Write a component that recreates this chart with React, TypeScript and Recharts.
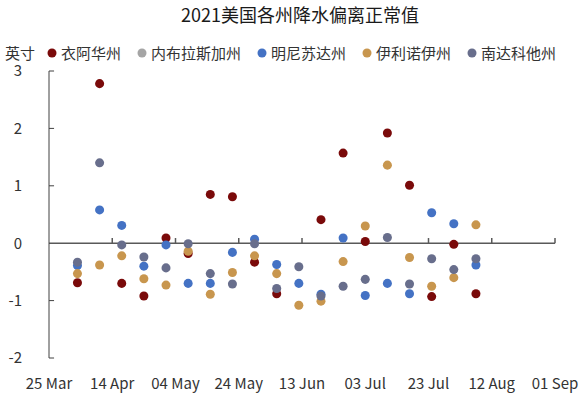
import React from 'react';
import { ScatterChart, Scatter, XAxis, YAxis, ZAxis, ReferenceLine, Legend } from 'recharts';

const FONT = '"Noto Sans CJK SC", "Noto Sans", sans-serif';

const dates = [
  '2021-04-03', '2021-04-10', '2021-04-17', '2021-04-24', '2021-05-01', '2021-05-08',
  '2021-05-15', '2021-05-22', '2021-05-29', '2021-06-05', '2021-06-12', '2021-06-19',
  '2021-06-26', '2021-07-03', '2021-07-10', '2021-07-17', '2021-07-24', '2021-07-31',
  '2021-08-07',
];

const iowa: (number | null)[] = [-0.69, 2.78, -0.70, -0.92, 0.09, -0.18, 0.85, 0.81, -0.33, -0.88, null, 0.41, 1.57, 0.03, 1.92, 1.01, -0.93, -0.02, -0.88];
const nebraska: (number | null)[] = [];
const minnesota: (number | null)[] = [-0.39, 0.58, 0.31, -0.40, -0.03, -0.70, -0.70, -0.16, 0.07, -0.37, -0.70, -0.89, 0.09, -0.91, -0.70, -0.88, 0.53, 0.34, -0.38];
const illinois: (number | null)[] = [-0.53, -0.38, -0.22, -0.62, -0.73, -0.14, -0.89, -0.51, -0.22, -0.53, -1.08, -1.01, -0.32, 0.30, 1.36, -0.25, -0.75, -0.60, 0.32];
const southDakota: (number | null)[] = [-0.33, 1.40, -0.03, -0.24, -0.43, -0.01, -0.53, -0.71, -0.01, -0.79, -0.41, -0.92, -0.75, -0.63, 0.10, -0.71, -0.27, -0.46, -0.27];

const xTickDates = ['2021-03-25', '2021-04-14', '2021-05-04', '2021-05-24', '2021-06-13', '2021-07-03', '2021-07-23', '2021-08-12', '2021-09-01'];
const xTickLabels = ['25 Mar', '14 Apr', '04 May', '24 May', '13 Jun', '03 Jul', '23 Jul', '12 Aug', '01 Sep'];
const yTicks = [-2, -1, 0, 1, 2, 3];

const series = [
  { name: '衣阿华州', color: '#7a0a0a', values: iowa },
  { name: '内布拉斯加州', color: '#a5a5a5', values: nebraska },
  { name: '明尼苏达州', color: '#4472c4', values: minnesota },
  { name: '伊利诺伊州', color: '#c8964e', values: illinois },
  { name: '南达科他州', color: '#686e8c', values: southDakota },
];

const toTs = (d: string) => Date.parse(d + 'T00:00:00Z');
const DAY = 86400000;
const xTicks = xTickDates.map(toTs);

const build = (vals: (number | null)[]) =>
  vals
    .map((v, i) => (v == null ? null : { x: toTs(dates[i]), y: v }))
    .filter((p): p is { x: number; y: number } => p !== null);

const fmtX = (v: number) => {
  const i = xTicks.indexOf(v);
  return i >= 0 ? xTickLabels[i] : '';
};

const txt: React.CSSProperties = { display: 'inline-block', height: 15, lineHeight: '15px', overflow: 'visible' };

const LegendContent = () => (
  <div style={{ display: 'flex', alignItems: 'center', fontFamily: FONT, fontSize: 15, lineHeight: '15px', color: '#333', height: 15, whiteSpace: 'nowrap' }}>
    <span style={{ ...txt, marginLeft: 5, marginRight: 12 }}>英寸</span>
    {series.map((s) => (
      <span key={s.name} style={{ display: 'inline-flex', alignItems: 'center', marginRight: 16, height: 15 }}>
        <svg width={10} height={10} style={{ marginRight: 4 }}>
          <circle cx={5} cy={5} r={4.5} fill={s.color} />
        </svg>
        <span style={txt}>{s.name}</span>
      </span>
    ))}
  </div>
);

export default function App() {
  return (
    <div style={{ position: 'absolute', left: 0, top: 0, width: 584, height: 398, background: '#fff' }}>
      <div
        style={{
          position: 'absolute', left: 0, top: 2, width: 584, paddingLeft: 16, boxSizing: 'border-box',
          textAlign: 'center', fontFamily: FONT, fontSize: 18, lineHeight: '24px', color: '#1a1a1a', zIndex: 2,
        }}
      >
        2021美国各州降水偏离正常值
      </div>
      <ScatterChart width={584} height={398} margin={{ top: 71, right: 29, bottom: 10, left: 9 }}>
        <XAxis
          type="number"
          dataKey="x"
          domain={[xTicks[0], xTicks[xTicks.length - 1]]}
          ticks={xTicks}
          tickFormatter={fmtX}
          interval={0}
          axisLine={false}
          tickLine={false}
          tickSize={0}
          tickMargin={20}
          height={30}
          allowDataOverflow
          tick={{ fontSize: 15, fill: '#333', fontFamily: FONT }}
        />
        <YAxis
          type="number"
          dataKey="y"
          domain={[-2, 3]}
          ticks={yTicks}
          interval={0}
          width={40}
          tickLine={false}
          tickSize={0}
          tickMargin={27}
          axisLine={{ stroke: '#404040', strokeWidth: 1 }}
          tick={{ fontSize: 15, fill: '#333', fontFamily: FONT }}
        />
        <ZAxis range={[80, 80]} />
        <ReferenceLine y={0} stroke="#595959" strokeWidth={1.5} ifOverflow="visible" />
        {xTicks.slice(1).map((t) => (
          <ReferenceLine
            key={'xt' + t}
            segment={[{ x: t, y: 0 }, { x: t, y: 0.09 }]}
            stroke="#595959"
            strokeWidth={1.5}
            ifOverflow="visible"
          />
        ))}
        {yTicks.filter((v) => v !== 0).map((v) => (
          <ReferenceLine
            key={'yt' + v}
            segment={[{ x: xTicks[0], y: v }, { x: xTicks[0] + 1.6 * DAY, y: v }]}
            stroke="#404040"
            strokeWidth={1}
            ifOverflow="visible"
          />
        ))}
        <Legend
          layout="horizontal"
          verticalAlign="middle"
          align="center"
          content={<LegendContent />}
          wrapperStyle={{ top: 45, left: 0, width: 584 }}
        />
        {series.map((s) => (
          <Scatter
            key={s.name}
            name={s.name}
            data={build(s.values)}
            fill={s.color}
            isAnimationActive={false}
          />
        ))}
      </ScatterChart>
    </div>
  );
}
